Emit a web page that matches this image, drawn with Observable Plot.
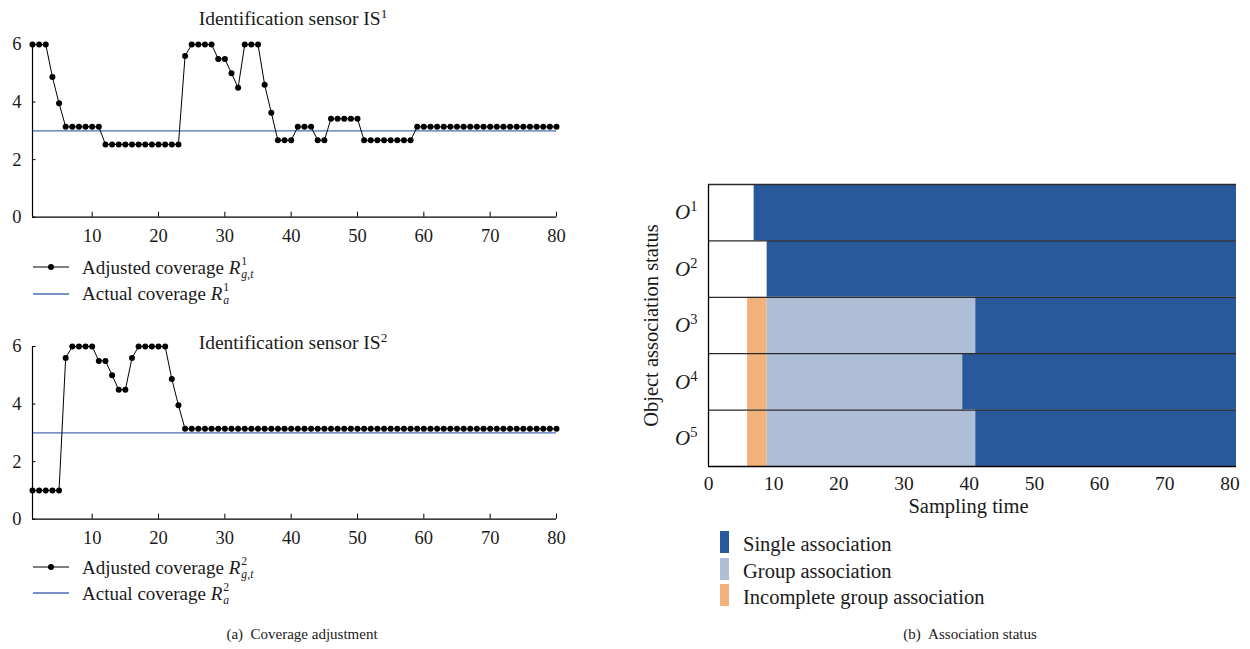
<!DOCTYPE html>
<html>
<head>
<meta charset="utf-8">
<script src="https://cdn.jsdelivr.net/npm/d3@7"></script>
<script src="https://cdn.jsdelivr.net/npm/@observablehq/plot@0.6"></script>
<style>
  body { margin: 0; background: #fff; }
  #page { position: relative; width: 1250px; height: 649px; overflow: hidden;
          font-family: "Liberation Serif", "DejaVu Serif", serif; color: #1a1a1a; }
  .abs { position: absolute; white-space: nowrap; }
  .title { font-size: 19.5px; line-height: 19.5px; transform: translateX(-50%); }
  .title sup { font-size: 0.68em; vertical-align: 0; position: relative; top: -0.55em; }
  .leg { font-size: 19px; line-height: 19px; }
  .legb { font-size: 20.5px; line-height: 20.5px; }
  .ss { display: inline-block; vertical-align: -0.34em; font-size: 0.62em; line-height: 1.12; margin-left: 1px; }
  .ss > span { display: block; }
  .cap { font-size: 15px; line-height: 15px; transform: translateX(-50%); }
  .sw { width: 9px; height: 22px; }
  svg.plot { overflow: visible; }
</style>
</head>
<body>
<div id="page"></div>
<script>
// Sampling instants of the coverage traces
const time = d3.range(1, 81);

// Adjusted coverage of identification sensor IS1, one value per sampling instant
const adjusted1 = [
  6, 6, 6, 4.87, 3.96, 3.14, 3.14, 3.14, 3.14, 3.14,
  3.14, 2.53, 2.53, 2.53, 2.53, 2.53, 2.53, 2.53, 2.53, 2.53,
  2.53, 2.53, 2.53, 5.6, 6, 6, 6, 6, 5.5, 5.5,
  5.0, 4.5, 6, 6, 6, 4.6, 3.63, 2.67, 2.67, 2.67,
  3.14, 3.14, 3.14, 2.67, 2.67, 3.42, 3.42, 3.42, 3.42, 3.42,
  2.67, 2.67, 2.67, 2.67, 2.67, 2.67, 2.67, 2.67, 3.14, 3.14,
  3.14, 3.14, 3.14, 3.14, 3.14, 3.14, 3.14, 3.14, 3.14, 3.14,
  3.14, 3.14, 3.14, 3.14, 3.14, 3.14, 3.14, 3.14, 3.14, 3.14
];

// Adjusted coverage of identification sensor IS2
const adjusted2 = [
  1, 1, 1, 1, 1, 5.6, 6, 6, 6, 6,
  5.5, 5.5, 5.0, 4.5, 4.5, 5.6, 6, 6, 6, 6,
  6, 4.87, 3.96, 3.14, 3.14, 3.14, 3.14, 3.14, 3.14, 3.14,
  3.14, 3.14, 3.14, 3.14, 3.14, 3.14, 3.14, 3.14, 3.14, 3.14,
  3.14, 3.14, 3.14, 3.14, 3.14, 3.14, 3.14, 3.14, 3.14, 3.14,
  3.14, 3.14, 3.14, 3.14, 3.14, 3.14, 3.14, 3.14, 3.14, 3.14,
  3.14, 3.14, 3.14, 3.14, 3.14, 3.14, 3.14, 3.14, 3.14, 3.14,
  3.14, 3.14, 3.14, 3.14, 3.14, 3.14, 3.14, 3.14, 3.14, 3.14
];

// Actual coverage of each sensor
const actual1 = 3;
const actual2 = 3;

const coverageXTicks = [10, 20, 30, 40, 50, 60, 70, 80];
const coverageYTicks = [0, 2, 4, 6];

// Association status per object: when each phase starts (null = phase absent)
const objectNumbers = [1, 2, 3, 4, 5];
const incompleteStart = [null, null, 6, 6, 6];
const groupStart = [null, null, 9, 9, 9];
const singleStart = [7, 9, 41, 39, 41];
const endTime = 81;
const statusNames = ["Single association", "Group association", "Incomplete group association"];
const statusColors = ["#285a9b", "#adbed6", "#f2b27b"];
const samplingTicks = [0, 10, 20, 30, 40, 50, 60, 70, 80];

const serif = "'Liberation Serif', 'DejaVu Serif', serif";
const lineBlue = "#4a6db5";
const page = document.getElementById("page");

function place(node, left, top) {
  node.classList.add("abs");
  node.style.left = left + "px";
  node.style.top = top + "px";
  page.appendChild(node);
  return node;
}

function html(markup, cls, left, top) {
  const d = document.createElement("div");
  d.className = cls;
  d.innerHTML = markup;
  return place(d, left, top);
}

// One coverage panel: adjusted coverage (line + dots) against the actual coverage
function coveragePlot(values, actual) {
  const pts = time.map((t, i) => ({t, v: values[i]}));
  return Plot.plot({
    width: 580,
    height: 225,
    marginLeft: 32,
    marginRight: 24,
    marginTop: 14,
    marginBottom: 38.3,
    x: {domain: [1, 80]},
    y: {domain: [0, 6]},
    style: {fontFamily: serif, fontSize: "18px", color: "#1a1a1a", background: "transparent", overflow: "visible"},
    marks: [
      Plot.ruleY([actual], {stroke: lineBlue, strokeWidth: 1.4}),
      Plot.line(pts, {x: "t", y: "v", stroke: "#000", strokeWidth: 1}),
      Plot.dot(pts, {x: "t", y: "v", r: 3, fill: "#000", stroke: "none"}),
      Plot.ruleX([1], {stroke: "#000", strokeWidth: 1.2}),
      Plot.ruleY([0], {stroke: "#000", strokeWidth: 1.2}),
      // inward tick marks
      Plot.ruleX(coverageXTicks, {x: d => d, y1: 0, y2: 0, insetBottom: 5, stroke: "#000"}),
      Plot.ruleY(coverageYTicks, {y: d => d, x1: 1, x2: 1, insetRight: -3.5, stroke: "#000"}),
      Plot.axisX(coverageXTicks, {tickSize: 0, tickPadding: 12, label: null, fontSize: 18.5}),
      Plot.axisY(coverageYTicks, {tickSize: 0, tickPadding: 11, label: null, fontSize: 18.5})
    ]
  });
}

const p1 = coveragePlot(adjusted1, actual1);
p1.classList.add("plot");
place(p1, 0, 30);

const p2 = coveragePlot(adjusted2, actual2);
p2.classList.add("plot");
place(p2, 0, 332);

// Panel titles
html("Identification sensor IS<sup>1</sup>", "title", 293, 9);
html("Identification sensor IS<sup>2</sup>", "title", 293, 333);

// Legend swatches for the coverage panels
function lineSwatch(withDot) {
  const s = d3.create("svg").attr("width", 36).attr("height", 10);
  s.append("line").attr("x1", 0).attr("x2", 36).attr("y1", 5).attr("y2", 5)
    .attr("stroke", withDot ? "#000" : lineBlue).attr("stroke-width", withDot ? 1 : 1.4);
  if (withDot) s.append("circle").attr("cx", 18).attr("cy", 5).attr("r", 3).attr("fill", "#000");
  return s.node();
}

function coverageLegend(n, lineTop1, lineTop2, textTop1, textTop2) {
  place(lineSwatch(true), 33, lineTop1 - 5);
  place(lineSwatch(false), 33, lineTop2 - 5);
  html(`Adjusted coverage <i>R</i><span class="ss"><span>${n}</span><span><i>g</i>,<i>t</i></span></span>`, "leg", 82, textTop1);
  html(`Actual coverage <i>R</i><span class="ss"><span>${n}</span><span><i>a</i></span></span>`, "leg", 82, textTop2);
}
coverageLegend(1, 267, 293.5, 254.5, 280.5);
coverageLegend(2, 566.7, 592.7, 554.5, 581);

// Association status panel
const segments = [];
objectNumbers.forEach((o, i) => {
  const row = i;
  if (incompleteStart[i] != null) segments.push({row, start: incompleteStart[i], end: groupStart[i], status: statusNames[2]});
  if (groupStart[i] != null) segments.push({row, start: groupStart[i], end: singleStart[i], status: statusNames[1]});
  segments.push({row, start: singleStart[i], end: endTime, status: statusNames[0]});
});
const rowEdges = d3.range(objectNumbers.length + 1);
const rowCenters = objectNumbers.map((o, i) => i + 0.5);

const p3 = Plot.plot({
  width: 610,
  height: 380,
  marginLeft: 68,
  marginRight: 14,
  marginTop: 34,
  marginBottom: 64,
  x: {domain: [0, endTime]},
  y: {domain: [0, objectNumbers.length], reverse: true},
  color: {domain: statusNames, range: statusColors},
  style: {fontFamily: serif, fontSize: "19px", color: "#1a1a1a", background: "transparent", overflow: "visible"},
  marks: [
    Plot.rect(segments, {x1: "start", x2: "end", y1: "row", y2: d => d.row + 1, fill: "status"}),
    Plot.ruleY(rowEdges.slice(0, -1), {x1: 0, x2: endTime, stroke: "#2a2a2a", strokeWidth: 1.3}),
    Plot.ruleY([objectNumbers.length], {x1: 0, x2: endTime, stroke: "#000", strokeWidth: 1.3}),
    Plot.ruleX([0], {stroke: "#000", strokeWidth: 1.3}),
    Plot.axisX(samplingTicks, {tickSize: 0, tickPadding: 10, label: null, fontSize: 19.5}),
    Plot.axisY(rowCenters, {tickSize: 0, tickPadding: 11, label: null, fontSize: 21,
      tickFormat: c => String(objectNumbers[Math.floor(c)])}),
    Plot.text(["Sampling time"], {frameAnchor: "bottom", dy: 46, dx: -4, fontSize: 20.5}),
    Plot.text(["Object association status"], {frameAnchor: "left", textAnchor: "middle", dx: -57, rotate: -90, fontSize: 20.5})
  ]
});
p3.classList.add("plot");
place(p3, 640, 150);

// Object labels: italic O with an upright superscript index
d3.select(p3).selectAll('g[aria-label="y-axis tick label"] text').each(function () {
  const t = d3.select(this);
  const n = t.text();
  t.text(null);
  t.append("tspan").attr("font-style", "italic").text("O");
  t.append("tspan").attr("font-size", 14.5).attr("dy", -8).text(n);
});

// Legend for the association status
statusNames.forEach((name, i) => {
  const sw = document.createElement("div");
  sw.className = "sw";
  sw.style.background = statusColors[i];
  place(sw, 720, 531 + i * 26.5);
  html(name, "legb", 743, 534 + i * 26.5);
});

// Sub-figure captions
html("(a)&nbsp;&nbsp;Coverage adjustment", "cap", 302, 627);
html("(b)&nbsp;&nbsp;Association status", "cap", 970, 627);
</script>
</body>
</html>
